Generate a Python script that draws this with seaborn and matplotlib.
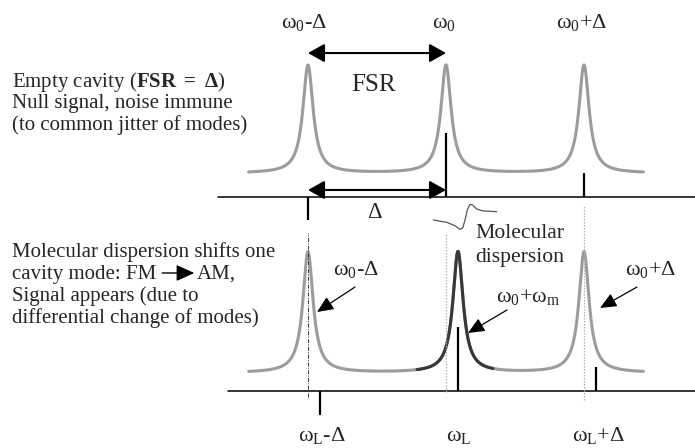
import numpy as np
import pandas as pd
import matplotlib
matplotlib.use("Agg")
import matplotlib.pyplot as plt
import seaborn as sns

# ---------------- data (frequency in units of the FSR Delta, omega_0 = 0) ----------------
top_modes = [-1.0, 0.0, 1.0]            # empty cavity modes
top_mode_height = [1.0, 1.0, 1.0]
top_baseline = 0.22
top_stick_freq = [-1.0, 0.0, 1.0]      # FM spectrum (carrier + sidebands)
top_stick_amp = [-0.21, 0.59, 0.22]

shift = 0.087                           # molecular dispersion shift of the central mode
bot_modes = [-1.0, 0.0 + shift, 1.0]
bot_mode_height = [1.0, 1.0, 1.0]
bot_baseline = 0.15
omega_L = 0.087
bot_stick_freq = [omega_L - 1.0, omega_L, omega_L + 1.0]
bot_stick_amp = [-0.20, 0.53, 0.20]
ref_lines = [-1.0, 0.0, 1.0]            # original (unshifted) mode positions

gamma = 0.045                           # half width of the cavity resonances
span = (-1.43, 1.43)                    # frequency span of the drawn resonances
dark_span = (-0.21, 0.34)               # part of the shifted mode drawn dark

disp_f = [-0.092, 0.005, 0.065, 0.101, 0.121, 0.138, 0.154, 0.174, 0.193, 0.222, 0.270, 0.367]
disp_a = [1.413, 1.394, 1.366, 1.336, 1.347, 1.413, 1.496, 1.543, 1.537, 1.504, 1.488, 1.482]

top_labels = [r"$\omega_0$-Δ", r"$\omega_0$", r"$\omega_0$+Δ"]
bot_labels = [r"$\omega_L$-Δ", r"$\omega_L$", r"$\omega_L$+Δ"]

# ---------------- style ----------------
sns.set_theme(style="white")
plt.rcParams["font.family"] = ["Liberation Serif", "DejaVu Serif"]
plt.rcParams["mathtext.fontset"] = "custom"
plt.rcParams["mathtext.rm"] = "Liberation Serif"
plt.rcParams["mathtext.it"] = "Liberation Serif"
plt.rcParams["mathtext.bf"] = "Liberation Serif:bold"
plt.rcParams["mathtext.default"] = "regular"

W, H = 695, 448
fig = plt.figure(figsize=(W / 100, H / 100), dpi=100)
fig.patch.set_facecolor("white")

x0_px, dx_px = 446.0, 138.0
XL = (-x0_px / dx_px, (W - x0_px) / dx_px)

ax_t = fig.add_axes([0, 0, 1, 1])
ax_t.set_xlim(XL)
ax_t.set_ylim(-(H - 197) / 108, 197 / 108)
ax_b = fig.add_axes([0, 0, 1, 1])
ax_b.set_xlim(XL)
ax_b.set_ylim(-(H - 391) / 121, 391 / 121)
for ax in (ax_t, ax_b):
    ax.set_axis_off()
    ax.patch.set_alpha(0)


def P(x, y):
    return (x / W, 1 - y / H)


def cavity(f, modes, heights, base):
    out = np.full_like(f, base)
    for c, h in zip(modes, heights):
        out += h * gamma ** 2 / ((f - c) ** 2 + gamma ** 2)
    return out


GRAY = "#9c9c9c"
DARK = "#383838"

# ---------------- top panel ----------------
f = np.linspace(span[0], span[1], 3000)
df_t = pd.DataFrame({"f": f, "a": cavity(f, top_modes, top_mode_height, top_baseline)})
sns.lineplot(data=df_t, x="f", y="a", ax=ax_t, color=GRAY, lw=2.2, estimator=None, sort=False)
ax_t.plot([-1.652, XL[1]], [0, 0], color="black", lw=1.1)
ax_t.vlines(top_stick_freq, 0, top_stick_amp, color="black", lw=1.6)

dbl = dict(arrowstyle="<|-|>,head_length=0.5,head_width=0.28", color="black", lw=1.5,
           shrinkA=0, shrinkB=0, mutation_scale=20)
ax_t.annotate("", xy=(top_modes[0], 1.333), xytext=(top_modes[1], 1.333), arrowprops=dbl)
ax_t.annotate("", xy=(top_modes[0], 0.065), xytext=(top_modes[1], 0.065), arrowprops=dbl)

# ---------------- bottom panel ----------------
fb = np.linspace(span[0], span[1], 3000)
df_b = pd.DataFrame({"f": fb, "a": cavity(fb, bot_modes, bot_mode_height, bot_baseline)})
sns.lineplot(data=df_b, x="f", y="a", ax=ax_b, color=GRAY, lw=2.2, estimator=None, sort=False)
df_d = df_b[(df_b.f >= dark_span[0]) & (df_b.f <= dark_span[1])]
sns.lineplot(data=df_d, x="f", y="a", ax=ax_b, color=DARK, lw=2.2, estimator=None, sort=False)
ax_b.plot([-1.580, XL[1]], [0, 0], color="black", lw=1.1)
ax_b.vlines(bot_stick_freq, 0, bot_stick_amp, color="black", lw=1.6)
ax_b.vlines(ref_lines[0], -0.05, 1.306, color="#333333", lw=0.7, linestyles=(0, (4, 1.5, 1, 1.5)))
ax_b.vlines(ref_lines[1], -0.01, 1.306, color="#b0b0b0", lw=0.9, linestyles=(0, (1.2, 1.2)))
ax_b.vlines(ref_lines[2], -0.074, 1.537, color="#b0b0b0", lw=0.9, linestyles=(0, (1.2, 1.2)))
df_disp = pd.DataFrame({"f": disp_f, "a": disp_a})
sns.lineplot(data=df_disp, x="f", y="a", ax=ax_b, color="#555555", lw=0.9, estimator=None, sort=False)

# ---------------- texts ----------------
FS = 15
FSO = 16
for s, y in zip([r"Empty cavity ($\mathbf{FSR}$ $\mathbf{=}$ $\mathbf{\Delta}$)", "Null signal, noise immune",
                 "(to common jitter of modes)"], [87, 108, 130]):
    fig.text(*P(12, y), s, fontsize=FS, ha="left", va="baseline")
fm_text = None
for s, y in zip(["Molecular dispersion shifts one", "cavity mode: FM", "Signal appears (due to",
                 "differential change of modes)"], [257, 279, 301, 323]):
    t = fig.text(*P(12, y), s, fontsize=FS, ha="left", va="baseline")
    if s.endswith("FM"):
        fm_text = t

fig.canvas.draw()
fm_end = fm_text.get_window_extent().x1
small = dict(arrowstyle="-|>,head_length=0.55,head_width=0.25", color="black", lw=1.0,
             shrinkA=0, shrinkB=0, mutation_scale=20)
fig.add_artist(matplotlib.patches.FancyArrowPatch(P(fm_end + 6, 273), P(fm_end + 38, 273),
                                                  transform=fig.transFigure, **small))
fig.text(*P(fm_end + 41, 279), "AM,", fontsize=FS, ha="left", va="baseline")

for s, x in zip(top_labels, [304, 444, 582]):
    fig.text(*P(x, 28), s, fontsize=FSO, ha="center", va="baseline")
for s, x in zip(bot_labels, [322, 459, 598]):
    fig.text(*P(x, 441), s, fontsize=FSO, ha="center", va="baseline")

fig.text(*P(374, 91), "FSR", fontsize=18, ha="center", va="baseline")
fig.text(*P(374, 218), "Δ", fontsize=16.4, ha="center", va="baseline")
fig.text(*P(475, 238), "Molecular", fontsize=15.6, ha="left", va="baseline")
fig.text(*P(475, 262), "dispersion", fontsize=15.6, ha="left", va="baseline")

ann = dict(arrowstyle="-|>,head_length=0.5,head_width=0.22", color="black", lw=0.9,
           shrinkA=0, shrinkB=0, mutation_scale=20)
for s, tx, ty in [(r"$\omega_0$-Δ", 333, 275),
                  (r"$\omega_0$+$\omega_m$", 496, 302),
                  (r"$\omega_0$+Δ", 625, 275)]:
    fig.text(*P(tx, ty), s, fontsize=FSO, ha="left", va="baseline")
for (x1, y1, x2, y2) in [(355, 287, 317, 312), (507, 310, 468, 333), (637, 287, 600, 308)]:
    fig.add_artist(matplotlib.patches.FancyArrowPatch(P(x1, y1), P(x2, y2), transform=fig.transFigure,
                                                      **ann))

fig.savefig("out.png", dpi=100, facecolor="white")
